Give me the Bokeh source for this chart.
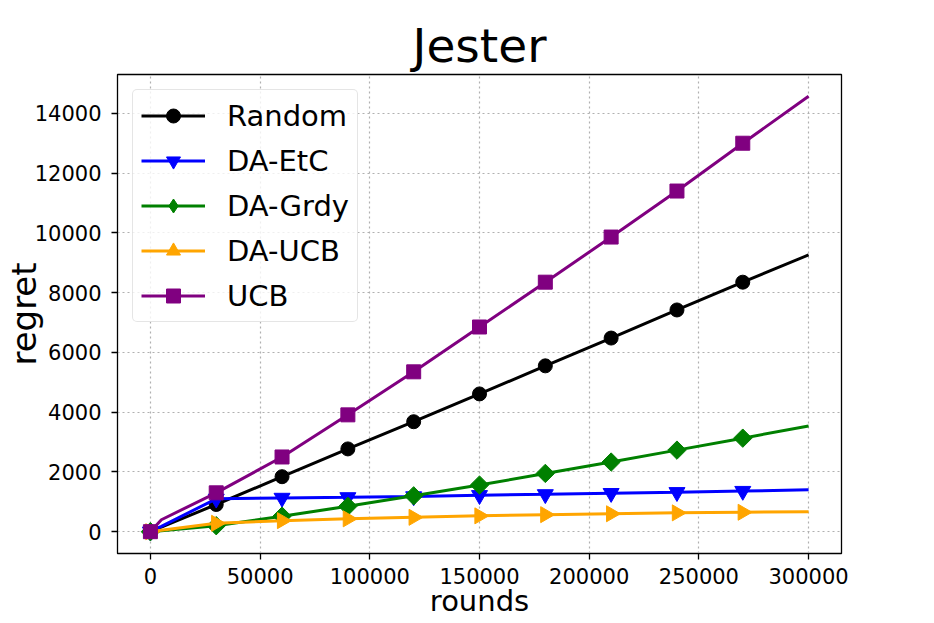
import math
from bokeh.plotting import figure
from bokeh.models import (FixedTicker, BasicTickFormatter, Legend, LegendItem,
                          Range1d, ColumnDataSource)
from bokeh.embed import file_html
from bokeh.resources import INLINE

rounds = [0, 5000, 30000, 60000, 90000, 120000, 150000, 180000, 210000, 240000, 270000, 300000]
random_regret = [0, 150, 910, 1840, 2770, 3680, 4610, 5550, 6480, 7420, 8350, 9260]
da_etc = [0, 180, 1100, 1130, 1150, 1180, 1220, 1250, 1290, 1320, 1360, 1400]
da_grdy = [0, 30, 200, 520, 850, 1200, 1560, 1950, 2330, 2730, 3130, 3540]
da_ucb = [0, 50, 280, 370, 430, 480, 530, 570, 600, 630, 650, 670]
ucb = [0, 400, 1300, 2500, 3910, 5350, 6850, 8350, 9860, 11400, 13000, 14570]

series_names = ["Random", "DA-EtC", "DA-Grdy", "DA-UCB", "UCB"]
x_ticks = [0, 50000, 100000, 150000, 200000, 250000, 300000]
y_ticks = [0, 2000, 4000, 6000, 8000, 10000, 12000, 14000]

FONT = "DejaVu Sans"

p = figure(width=934, height=623, output_backend="svg", toolbar_location=None,
           x_range=Range1d(-15000, 315000), y_range=Range1d(-730, 15300),
           min_border_left=117, min_border_right=93, min_border_bottom=70, min_border_top=74)
p.title.text = "Jester"
p.title.align = "center"
p.title.text_font = FONT
p.title.text_font_size = "47px"
p.title.text_font_style = "normal"
p.title.text_color = "black"
p.title.standoff = 4

p.outline_line_color = "black"
p.outline_line_width = 1.3
p.outline_line_alpha = 1.0
p.background_fill_color = "white"

for ax in (p.xaxis[0], p.yaxis[0]):
    ax.major_label_text_font = FONT
    ax.major_label_text_font_size = "21px"
    ax.major_label_text_color = "black"
    ax.axis_label_text_font = FONT
    ax.axis_label_text_font_style = "normal"
    ax.axis_label_text_color = "black"
    ax.axis_line_color = "black"
    ax.major_tick_line_color = "black"
    ax.major_tick_line_width = 1.3
    ax.major_tick_out = 6
    ax.major_tick_in = 0
    ax.minor_tick_line_color = None
    ax.formatter = BasicTickFormatter(use_scientific=False)

p.xaxis.ticker = FixedTicker(ticks=x_ticks)
p.yaxis.ticker = FixedTicker(ticks=y_ticks)
p.xaxis.axis_label = "rounds"
p.yaxis.axis_label = "regret"
p.xaxis.axis_label_text_font_size = "29px"
p.yaxis.axis_label_text_font_size = "34px"
p.xaxis.major_label_standoff = 8
p.yaxis.major_label_standoff = 10
p.xaxis.axis_label_standoff = -3
p.yaxis.axis_label_standoff = -12

p.grid.grid_line_color = "#b0b0b0"
p.grid.grid_line_dash = "2 3"
p.grid.grid_line_width = 1.2

mark_idx = [i for i, r in enumerate(rounds) if r % 30000 == 0 and r < 300000]
mx = [rounds[i] for i in mark_idx]

# (values, colour, plot marker, marker angle, size, legend marker)
specs = [
    (random_regret, "black", "circle", 0.0, 14, None),
    (da_etc, "blue", "inverted_triangle", 0.0, 16, None),
    (da_grdy, "green", "square", math.pi / 4, 13, "diamond"),
    (da_ucb, "orange", "triangle", -math.pi / 2, 16, None),
    (ucb, "purple", "square", 0.0, 14, None),
]

items = []
for name, (vals, color, marker, ang, size, leg_marker) in zip(series_names, specs):
    lr = p.line(rounds, vals, line_color=color, line_width=3)
    my = [vals[i] for i in mark_idx]
    src = ColumnDataSource(dict(x=mx, y=my))
    rends = [lr]
    if leg_marker is not None:
        # legend-shaped marker, fully hidden beneath the rotated squares
        rends.append(p.scatter("x", "y", source=src, marker=leg_marker, size=11,
                               fill_color=color, line_color=color))
    sr = p.scatter("x", "y", source=src, marker=marker, size=size, angle=ang,
                   fill_color=color, line_color=color)
    if leg_marker is None:
        rends.append(sr)
    items.append(LegendItem(label=name, renderers=rends))

legend = Legend(items=items, location="top_left")
legend.label_text_font = FONT
legend.label_text_font_size = "29px"
legend.label_text_color = "black"
legend.label_standoff = 22
legend.glyph_width = 64
legend.glyph_height = 35
legend.label_height = 35
legend.spacing = 10
legend.padding = 8
legend.margin = 15
legend.border_line_color = "#cccccc"
legend.border_line_width = 1.5
legend.background_fill_alpha = 0.8
try:
    legend.border_radius = 5
except Exception:
    pass
p.add_layout(legend, "center")

open("out.html", "w").write(file_html(p, INLINE))
